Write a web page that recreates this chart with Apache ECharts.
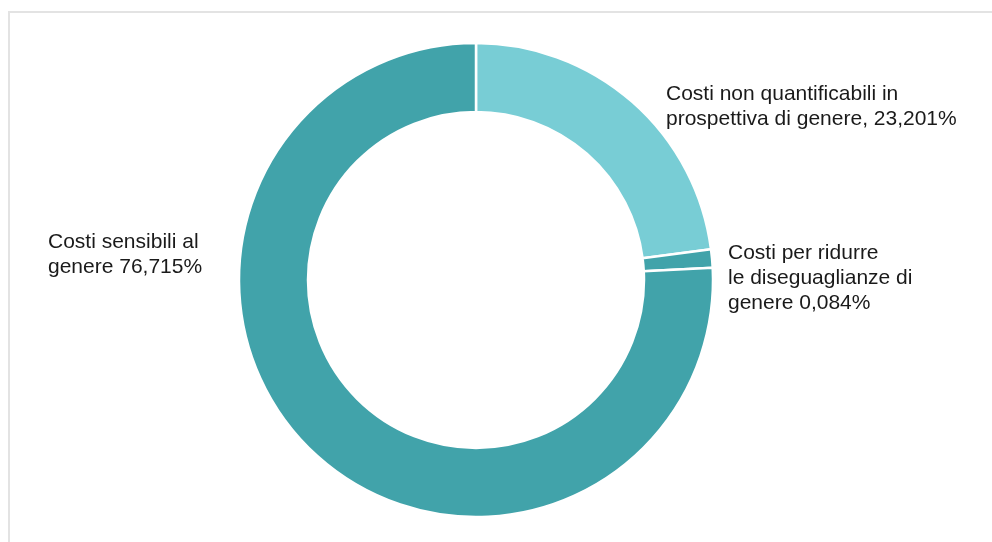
<!DOCTYPE html>
<html>
<head>
<meta charset="utf-8">
<script src="https://cdn.jsdelivr.net/npm/echarts@6/dist/echarts.min.js"></script>
<style>
html,body{margin:0;padding:0;background:#fff;overflow:hidden;}
#frame{position:absolute;left:8px;top:11px;width:1100px;height:700px;border-left:2px solid #e3e3e3;border-top:2px solid #e3e3e3;}
#chart{position:absolute;left:0;top:0;width:992px;height:542px;}
</style>
</head>
<body>
<div id="frame"></div>
<div id="chart"></div>
<script>
const categories = [
  "Costi non quantificabili in\nprospettiva di genere, 23,201%",
  "Costi per ridurre\nle diseguaglianze di\ngenere 0,084%",
  "Costi sensibili al\ngenere 76,715%"
];
const values = [23.201, 0.084, 76.715];
const colors = ['#78CDD5', '#41A3AA', '#41A3AA'];
const labelPos = [[666, 82], [728, 241], [48, 230]];

const chart = echarts.init(document.getElementById('chart'), null, {renderer: 'canvas'});
chart.setOption({
  animation: false,
  series: [{
    type: 'pie',
    center: [476, 280],
    radius: [168, 237],
    startAngle: 90,
    clockwise: true,
    minAngle: 4.5,
    avoidLabelOverlap: false,
    itemStyle: {borderColor: '#fff', borderWidth: 2.5},
    label: {
      show: true,
      formatter: p => p.name,
      fontFamily: 'Liberation Sans, Arial, sans-serif',
      fontSize: 21,
      lineHeight: 25,
      color: '#1a1a1a'
    },
    labelLine: {show: false},
    emphasis: {disabled: true},
    labelLayout: function (params) {
      const p = labelPos[params.dataIndex];
      return {x: p[0], y: p[1], align: 'left', verticalAlign: 'top'};
    },
    data: categories.map((c, i) => ({name: c, value: values[i], itemStyle: {color: colors[i]}}))
  }]
});
</script>
</body>
</html>
